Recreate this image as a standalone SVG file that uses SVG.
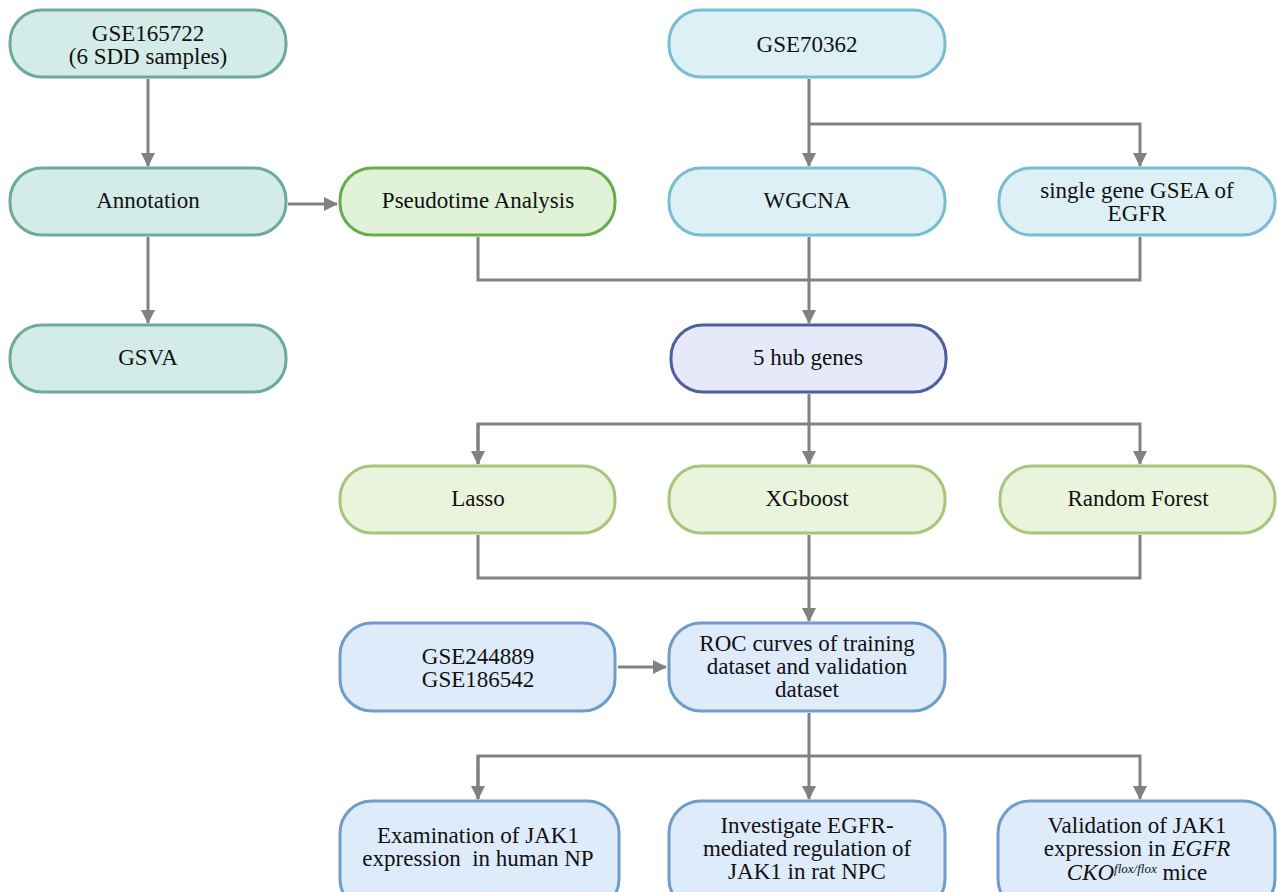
<svg xmlns="http://www.w3.org/2000/svg" width="1277" height="892" viewBox="0 0 1277 892">
<defs>
<marker id="ah" markerUnits="userSpaceOnUse" markerWidth="14" markerHeight="14" viewBox="0 0 14 14" refX="13" refY="7" orient="auto">
<path d="M0,0 L14,7 L0,14 Z" fill="#7f8184"/>
</marker>
<style>
.box{stroke-width:3}
.teal{fill:#d3ece8;stroke:#6baa9d}
.green{fill:#e0f2d8;stroke:#6aab4e}
.sky{fill:#dcf0f6;stroke:#78bdd1}
.hub{fill:#e6e9f9;stroke:#4f5ea0}
.ml{fill:#eaf4dc;stroke:#a7c67b}
.blue{fill:#deebfa;stroke:#6f9cc8}
text{font-size:23px;fill:#111;text-anchor:middle}
.c{fill:none;stroke:#7f8184;stroke-width:3}
</style>
</defs>
<rect width="1277" height="892" fill="#ffffff"/>
<g id="connectors">
<path class="c" d="M148,79 V166" marker-end="url(#ah)"/>
<path class="c" d="M148,237 V323" marker-end="url(#ah)"/>
<path class="c" d="M288,204 H337" marker-end="url(#ah)"/>
<path class="c" d="M809,79 V166" marker-end="url(#ah)"/>
<path class="c" d="M809,124 H1140 V166" marker-end="url(#ah)"/>
<path class="c" d="M478,237 V280 H1140 V237"/>
<path class="c" d="M809,237 V323" marker-end="url(#ah)"/>
<path class="c" d="M809,394 V464" marker-end="url(#ah)"/>
<path class="c" d="M478,464 V424 H1140 V464" marker-end="url(#ah)"/>
<path class="c" d="M478,424 V464" marker-end="url(#ah)"/>
<path class="c" d="M478,535 V578 H1140 V535"/>
<path class="c" d="M809,535 V621" marker-end="url(#ah)"/>
<path class="c" d="M618,667 H666" marker-end="url(#ah)"/>
<path class="c" d="M809,713 V799" marker-end="url(#ah)"/>
<path class="c" d="M478,799 V756 H1140 V799" marker-end="url(#ah)"/>
<path class="c" d="M478,756 V799" marker-end="url(#ah)"/>
</g>
<g font-family="Liberation Serif, DejaVu Serif, serif">
<g id="n-gse165722">
<rect class="box teal" x="10" y="10" width="276" height="67" rx="32"/>
<text x="148" y="41">GSE165722</text>
<text x="148" y="64">(6 SDD samples)</text>
</g>
<g id="n-annotation">
<rect class="box teal" x="10" y="168" width="276" height="67" rx="32"/>
<text x="148" y="208">Annotation</text>
</g>
<g id="n-gsva">
<rect class="box teal" x="10" y="325" width="276" height="67" rx="32"/>
<text x="148" y="365">GSVA</text>
</g>
<g id="n-pseudotime">
<rect class="box green" x="340" y="168" width="275" height="67" rx="32"/>
<text x="478" y="208">Pseudotime Analysis</text>
</g>
<g id="n-gse70362">
<rect class="box sky" x="669" y="10" width="276" height="67" rx="32"/>
<text x="807" y="52">GSE70362</text>
</g>
<g id="n-wgcna">
<rect class="box sky" x="669" y="168" width="276" height="67" rx="32"/>
<text x="807" y="208">WGCNA</text>
</g>
<g id="n-gsea">
<rect class="box sky" x="999" y="168" width="276" height="67" rx="32"/>
<text x="1137" y="198">single gene GSEA of</text>
<text x="1137" y="221">EGFR</text>
</g>
<g id="n-hub">
<rect class="box hub" x="671" y="325" width="275" height="67" rx="32"/>
<text x="808" y="365">5 hub genes</text>
</g>
<g id="n-lasso">
<rect class="box ml" x="340" y="466" width="275" height="67" rx="32"/>
<text x="478" y="506">Lasso</text>
</g>
<g id="n-xgboost">
<rect class="box ml" x="669" y="466" width="276" height="67" rx="32"/>
<text x="807" y="506">XGboost</text>
</g>
<g id="n-rf">
<rect class="box ml" x="1000" y="466" width="275" height="67" rx="32"/>
<text x="1138" y="506">Random Forest</text>
</g>
<g id="n-gse244889">
<rect class="box blue" x="340" y="623" width="275" height="88" rx="32"/>
<text x="478" y="664">GSE244889</text>
<text x="478" y="687">GSE186542</text>
</g>
<g id="n-roc">
<rect class="box blue" x="669" y="623" width="276" height="88" rx="32"/>
<text x="807" y="651">ROC curves of training</text>
<text x="807" y="674">dataset and validation</text>
<text x="807" y="697">dataset</text>
</g>
<g id="n-exam">
<rect class="box blue" x="340" y="801" width="279" height="110" rx="32"/>
<text x="478" y="843">Examination of JAK1</text>
<text x="478" y="866" xml:space="preserve">expression  in human NP</text>
</g>
<g id="n-investigate">
<rect class="box blue" x="669" y="801" width="276" height="110" rx="32"/>
<text x="807" y="833">Investigate EGFR-</text>
<text x="807" y="856">mediated regulation of</text>
<text x="807" y="879">JAK1 in rat NPC</text>
</g>
<g id="n-validation">
<rect class="box blue" x="998" y="801" width="277" height="110" rx="32"/>
<text x="1137" y="833">Validation of JAK1</text>
<text x="1137" y="856">expression in <tspan font-style="italic">EGFR</tspan></text>
<text x="1137" y="880"><tspan font-style="italic">CKO</tspan><tspan font-style="italic" font-size="13" dy="-7">flox/flox</tspan><tspan dy="7"> mice</tspan></text>
</g>
</g>
</svg>
